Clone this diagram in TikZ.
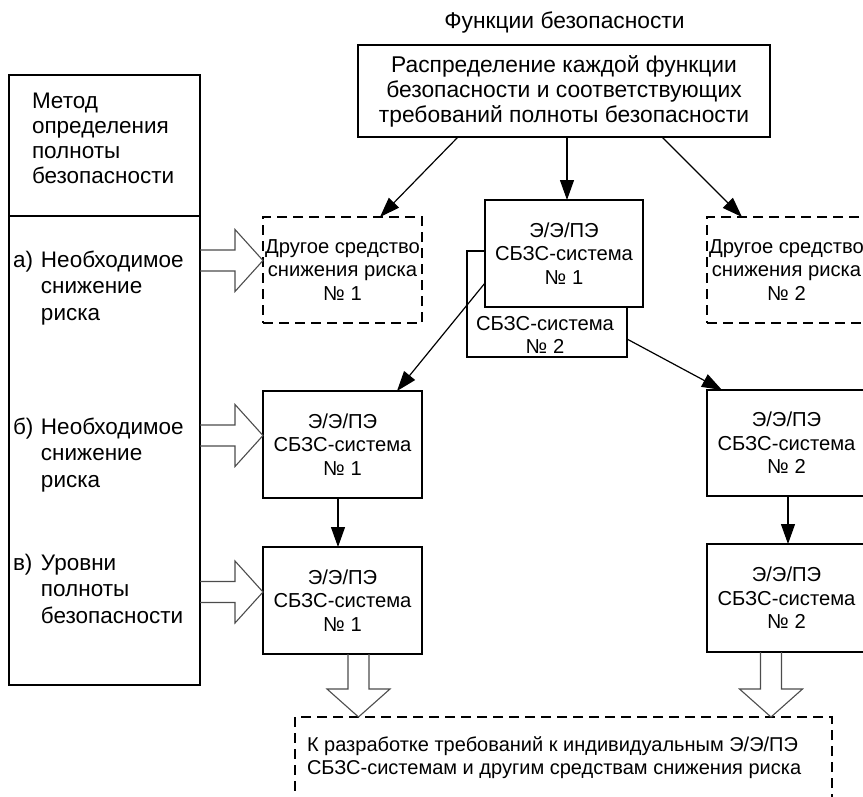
\documentclass[tikz,border=0pt]{standalone}
\usepackage{fontspec}
\setmainfont{Liberation Sans}
\usetikzlibrary{arrows.meta,calc}
\newcommand\harrowR[2]{\draw[blk] ($(#1)+(0,-10.5)$) -- ($(#2)+(-28,-10.5)$) -- ($(#2)+(-28,-31)$) -- (#2) -- ($(#2)+(-28,31)$) -- ($(#2)+(-28,10.5)$) -- ($(#1)+(0,10.5)$);}
\newcommand\harrowD[2]{\draw[blk] ($(#1)+(-10.5,0)$) -- ($(#2)+(-10.5,-28)$) -- ($(#2)+(-31.5,-28)$) -- (#2) -- ($(#2)+(31.5,-28)$) -- ($(#2)+(10.5,-28)$) -- ($(#1)+(10.5,0)$);}
\begin{document}
\begin{tikzpicture}[x=1pt,y=-1pt,
  every node/.style={font=\fontsize{20.2pt}{23.5pt}\selectfont, inner sep=0pt, outer sep=0pt},
  bigtext/.style={font=\fontsize{22.8pt}{25pt}\selectfont},
  lefttext/.style={font=\fontsize{22.5pt}{26.5pt}\selectfont, anchor=base west, align=left},
  box/.style={draw, line width=1.5pt, align=center, minimum width=159pt, minimum height=106pt},
  dbox/.style={box, dash pattern=on 10pt off 6pt},
  conn/.style={line width=1.2pt, -{Triangle[length=20pt,width=14pt]}},
  blk/.style={line width=1.1pt, draw=black!70},
  ]
\useasboundingbox (0,0) rectangle (863,796);
\clip (0,0) rectangle (863,796);

% title and top box
\node[bigtext] (title) at (564.5,23) {Функции безопасности};
\node[box, bigtext, minimum width=412pt, minimum height=92pt] (top) at (564,91)
  {Распределение каждой функции\\безопасности и соответствующих\\требований полноты безопасности};

% left column
\node[draw, line width=1.5pt, minimum width=191pt, minimum height=141pt, anchor=north west] (mtop) at (9,75) {};
\node[draw, line width=1.5pt, minimum width=191pt, minimum height=469pt, anchor=north west] (mbot) at (9,216) {};
\node[lefttext, font=\fontsize{22.5pt}{25pt}\selectfont] (mtxt) at (32,183)
  {Метод\\определения\\полноты\\безопасности};
\node[lefttext] (la) at (13,267) {а)};
\node[lefttext] (ta) at (41,320) {Необходимое\\снижение\\риска};
\node[lefttext] (lb) at (13,434) {б)};
\node[lefttext] (tb) at (41,487) {Необходимое\\снижение\\риска};
\node[lefttext] (lc) at (13,570) {в)};
\node[lefttext] (tc) at (41,623) {Уровни\\полноты\\безопасности};

% row 1
\node[dbox] (d1) at (342.5,270) {Другое средство\\снижения риска\\№ 1};
\node[dbox] (d2) at (786.5,270) {Другое средство\\снижения риска\\№ 2};
\node[box, minimum width=160pt, fill=white] (c2) at (547,304) {};
\node[align=center] (c2t) at (545,335) {СБЗС-система\\№ 2};
\node[box, minimum width=158pt, minimum height=107pt, fill=white] (c1) at (564,253.5) {Э/Э/ПЭ\\СБЗС-система\\№ 1};

% rows 2 and 3
\node[box, minimum height=107pt] (l1) at (342.5,444.5) {Э/Э/ПЭ\\СБЗС-система\\№ 1};
\node[box, minimum height=107pt] (l2) at (342.5,600.5) {Э/Э/ПЭ\\СБЗС-система\\№ 1};
\node[box, minimum height=106pt] (r1) at (786.5,443) {Э/Э/ПЭ\\СБЗС-система\\№ 2};
\node[box, minimum height=108pt] (r2) at (786.5,598) {Э/Э/ПЭ\\СБЗС-система\\№ 2};

% bottom box
\node[dbox, anchor=north west, minimum width=537pt, minimum height=110pt] (bot) at (295,717) {};
\node[anchor=base west, align=left, font=\fontsize{20pt}{23pt}\selectfont] (btxt) at (307,774)
  {К разработке требований к индивидуальным Э/Э/ПЭ\\СБЗС-системам и другим средствам снижения риска};

% connectors
\draw[conn] ($(top.south)+(-106,0)$) -- ($(d1.north)+(37.5,0)$);
\draw[conn] ($(top.south)+(3,0)$) -- ($(c1.north)+(3,0)$);
\draw[conn] ($(top.south)+(98,0)$) -- ($(d2.north)+(-44.5,0)$);
\draw[conn] ($(c2.north west)+(18,32)$) -- ($(l1.north)+(54.5,0)$);
\draw[conn] ($(c2.east)+(0,35)$) -- ($(r1.north)+(-64.5,0)$);
\draw[conn] ($(l1.south)+(-4.5,0)$) -- ($(l2.north)+(-4.5,0)$);
\draw[conn] ($(r1.south)+(1.5,0)$) -- ($(r2.north)+(1.5,0)$);

% hollow block arrows
\coordinate (aT) at ($(d1.west)+(0,-9.5)$); \coordinate (aS) at (aT -| mbot.east);
\coordinate (bT) at ($(l1.west)+(0,-9)$);   \coordinate (bS) at (bT -| mbot.east);
\coordinate (cT) at ($(l2.west)+(0,-8.5)$); \coordinate (cS) at (cT -| mbot.east);
\coordinate (dS) at ($(l2.south)+(16,0)$);  \coordinate (dT) at (dS |- bot.north);
\coordinate (eS) at ($(r2.south)+(-15.5,0)$); \coordinate (eT) at (eS |- bot.north);
\harrowR{aS}{aT}
\harrowR{bS}{bT}
\harrowR{cS}{cT}
\harrowD{dS}{dT}
\harrowD{eS}{eT}
\end{tikzpicture}
\end{document}
